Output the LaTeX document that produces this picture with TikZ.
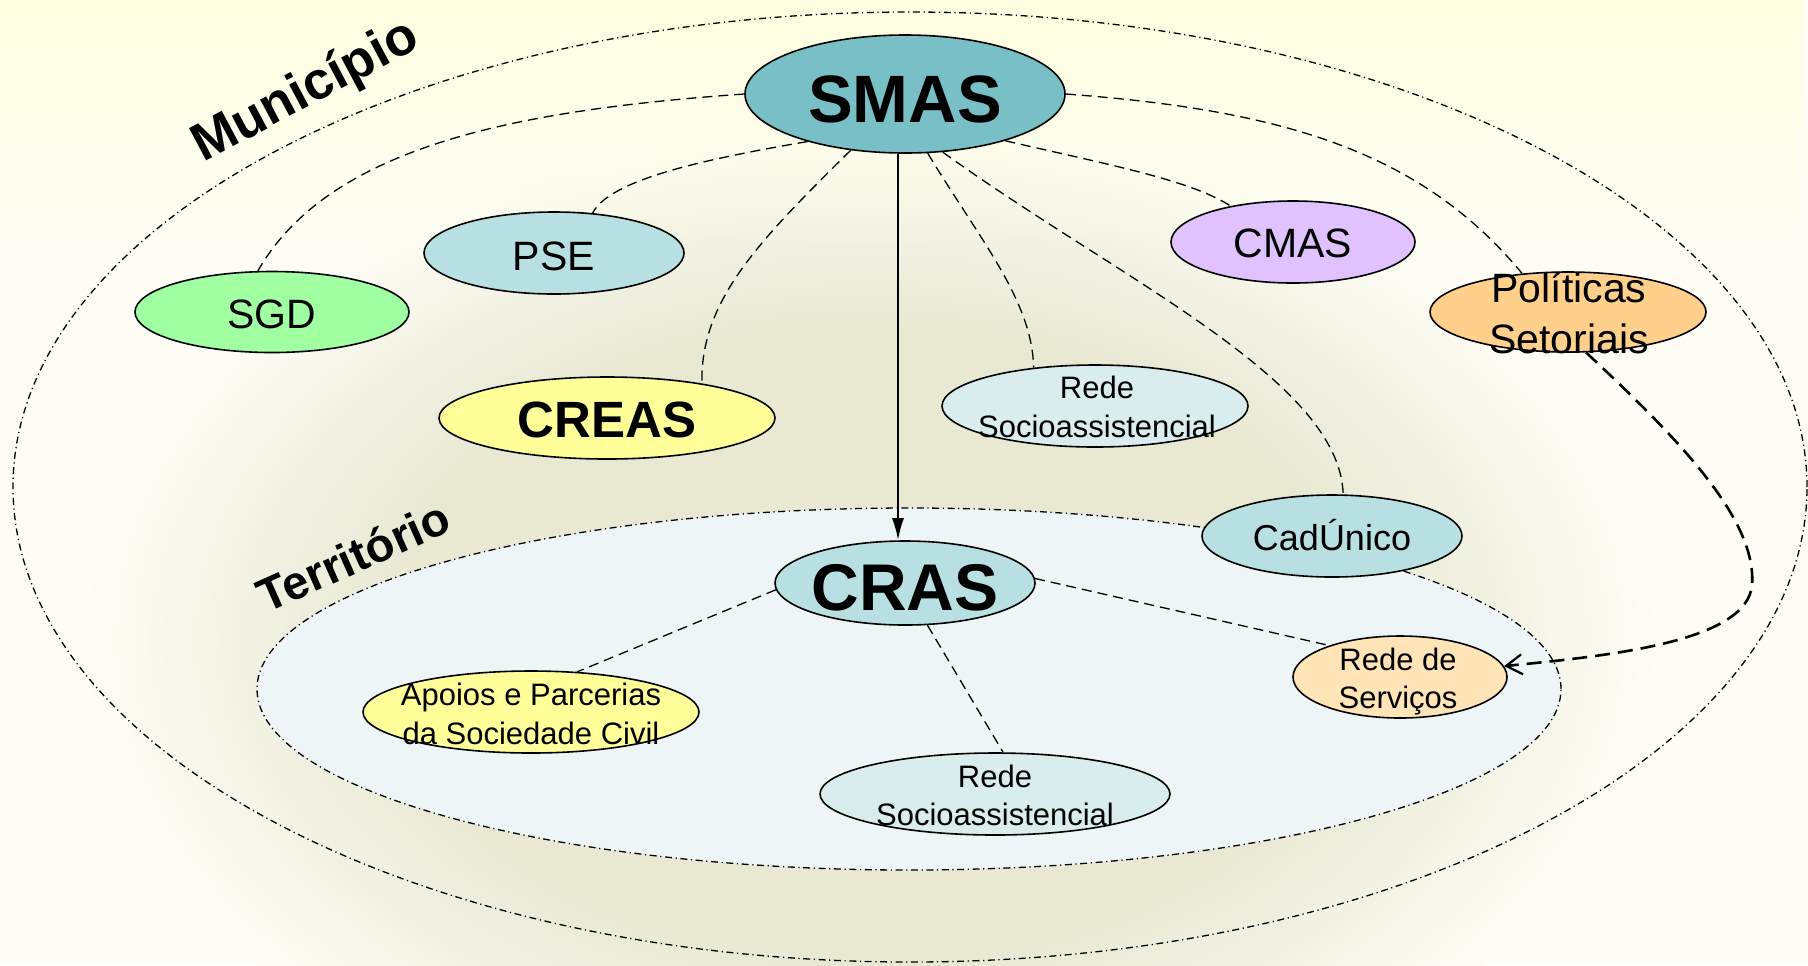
\documentclass[tikz,border=0pt]{standalone}
\usepackage{fontspec}
\setmainfont{Liberation Sans}
\usetikzlibrary{shapes.geometric,arrows.meta,fadings}
\definecolor{bgc}{HTML}{FDFDF6}
\definecolor{topc}{HTML}{FEFEE0}
\definecolor{khaki}{HTML}{E8E8D3}
\definecolor{terrc}{HTML}{EDF5F7}
\definecolor{smasc}{HTML}{78C0C6}
\definecolor{bluec}{HTML}{B8DFE2}
\definecolor{paleblue}{HTML}{D9EDEF}
\definecolor{greenc}{HTML}{A0FFA0}
\definecolor{yellowc}{HTML}{FFFF99}
\definecolor{lilac}{HTML}{E0C2FF}
\definecolor{orangec}{HTML}{FFD08C}
\definecolor{peach}{HTML}{FFE4B8}
\pgfdeclareradialshading{blobshade}{\pgfpoint{0bp}{0bp}}{color(0bp)=(khaki); color(15bp)=(khaki); color(25bp)=(bgc); color(50bp)=(bgc)}
\tikzfading[name=bandfade, top color=transparent!0, bottom color=transparent!100]
\begin{document}
\begin{tikzpicture}[x=0.5pt,y=-0.5pt,
  ell/.style={ellipse, draw=black, line width=0.8pt, inner sep=0pt},
  lbl/.style={inner sep=0pt, anchor=base, text=black},
  small/.style={lbl, font=\fontsize{15.5}{19}\selectfont},
  mid/.style={lbl, font=\fontsize{20.5}{25}\selectfont},
  link/.style={draw=black, line width=0.65pt, dash pattern=on 5pt off 3pt},
  thicklink/.style={draw=black, line width=1.3pt, dash pattern=on 7.5pt off 4pt},
  region/.style={ellipse, draw=black, line width=0.65pt, inner sep=0pt,
    dash pattern=on 3.5pt off 1.8pt on 0.6pt off 1.8pt}
]
\useasboundingbox (0,0) rectangle (1808,965);
% background
\fill[bgc] (0,0) rectangle (1808,965);
\shade[shading=blobshade] (870,640) ellipse [x radius=790, y radius=520];
\fill[topc, path fading=bandfade] (0,0) rectangle (1808,260);

% regions
\node[region, minimum width=897pt, minimum height=475pt] (mun) at (910,487) {};
\node[region, fill=terrc, minimum width=652pt, minimum height=181pt] (terr) at (909,689) {};

% nodes
\node[ell, fill=smasc, minimum width=160pt, minimum height=59pt] (smas) at (905,94) {};
\node[ell, fill=bluec, minimum width=130pt, minimum height=41pt] (pse) at (554,253) {};
\node[ell, fill=greenc, minimum width=137pt, minimum height=40.5pt] (sgd) at (272,312) {};
\node[ell, fill=yellowc, minimum width=168pt, minimum height=41pt] (creas) at (607,418) {};
\node[ell, fill=lilac, minimum width=122pt, minimum height=41pt] (cmas) at (1293,242) {};
\node[ell, fill=orangec, minimum width=138pt, minimum height=40pt] (pol) at (1568,312) {};
\node[ell, fill=paleblue, minimum width=153pt, minimum height=41pt] (rs1) at (1095,406) {};
\node[ell, fill=bluec, minimum width=130pt, minimum height=41pt] (cad) at (1332,536) {};
\node[ell, fill=bluec, minimum width=130pt, minimum height=42pt] (cras) at (905,583) {};
\node[ell, fill=yellowc, minimum width=168pt, minimum height=41pt] (apo) at (531,712) {};
\node[ell, fill=paleblue, minimum width=175pt, minimum height=41pt] (rs2) at (995,794) {};
\node[ell, fill=peach, minimum width=107pt, minimum height=41pt] (rsv) at (1400,677) {};

% connectors
\draw[link] (smas.west) .. controls (520,110) and (330,145) .. (sgd.109);
\draw[link] (smas.206) .. controls (700,160) and (610,180) .. (pse.46);
\draw[link] (smas.226) .. controls (760,240) and (700,300) .. (creas.20);
\draw[link] (smas.-69) .. controls (980,240) and (1032,300) .. (rs1.148);
\draw[link] (smas.-57) .. controls (1120,280) and (1340,380) .. (cad.75);
\draw[link] (smas.-25) .. controls (1110,165) and (1190,180) .. (cmas.150);
\draw[link] (smas.east) .. controls (1280,110) and (1420,150) .. (pol.140);
\coordinate (bend) at (1752,585);
\draw[thicklink, -{Straight Barb[length=8pt,width=10pt,line width=1.1pt]}]
  (pol.-66) .. controls (1680,440) and (1757,520) .. (bend)
  .. controls (1747,640) and (1620,655) .. (rsv.6);
\draw[link] (cras.183) -- (apo.41);
\draw[link] (cras.-62) -- (rs2.79);
\draw[link] (cras.2) -- (rsv.156);
\draw[line width=1pt, -{Latex[length=11pt,width=6pt]}]
  ([xshift=-3.5pt]smas.south) -- ([xshift=-3.5pt]cras.north);

% texts
\node[lbl, font=\fontsize{33.5}{40}\selectfont\bfseries] (smasT) at (905,122) {SMAS};
\node[mid] (pseT) at (554,270) {PSE};
\node[mid] (sgdT) at (272,328) {SGD};
\node[lbl, font=\fontsize{25.5}{30}\selectfont\bfseries] (creasT) at (607,437) {CREAS};
\node[mid] (cmasT) at (1293,257) {CMAS};
\node[mid] (polT1) at (1569,302) {Políticas};
\node[mid] (polT2) at (1569,353) {Setoriais};
\node[small] (rs1T1) at (1097,398) {Rede};
\node[small] (rs1T2) at (1097,437) {Socioassistencial};
\node[lbl, font=\fontsize{18}{22}\selectfont] (cadT) at (1332,550) {CadÚnico};
\node[lbl, font=\fontsize{33}{40}\selectfont\bfseries] (crasT) at (905,610) {CRAS};
\node[small] (apoT1) at (531,705) {Apoios e Parcerias};
\node[small] (apoT2) at (531,744) {da Sociedade Civil};
\node[small] (rs2T1) at (995,787) {Rede};
\node[small] (rs2T2) at (995,825) {Socioassistencial};
\node[small] (rsvT1) at (1398,670) {Rede de};
\node[small] (rsvT2) at (1398,708) {Serviços};
\node[inner sep=0pt, anchor=base west, rotate=28, font=\fontsize{26.5}{32}\selectfont\bfseries] (munT) at (203,163) {Município};
\node[inner sep=0pt, anchor=base west, rotate=24, font=\fontsize{23.5}{28}\selectfont\bfseries] (terT) at (266,614) {Território};
\end{tikzpicture}
\end{document}
